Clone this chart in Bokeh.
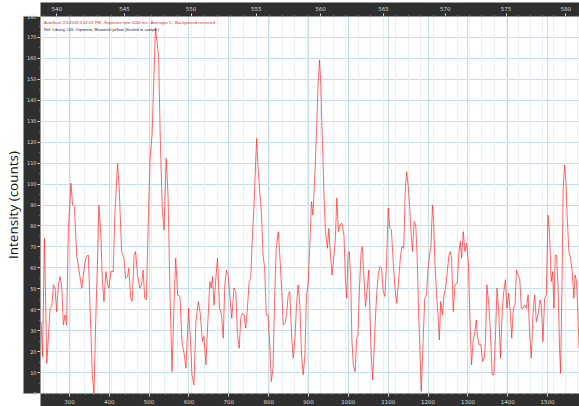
from bokeh.plotting import figure
from bokeh.models import (LinearAxis, FixedTicker, SingleIntervalTicker, Range1d, Label,
                          Title, Grid, CustomJSTickFormatter)
from bokeh.embed import file_html
from bokeh.resources import INLINE

# ---- data ----
raman_shift = [
    229, 232.5, 237.5, 243.3, 251.7, 255.8, 260, 264, 268, 272.5, 276.7, 281, 285, 289, 293,
    297.5, 304, 308, 312.5, 318.3, 324, 331, 335, 342, 347.5, 352.5, 357.5, 361.7, 366, 371,
    374, 379, 382.5, 386.7, 391.7, 396, 399, 404, 410, 414, 421, 425, 431, 437, 441,
    446, 449, 454, 457.5, 462.5, 466, 471, 477, 481, 485, 489, 493, 497.5, 502.5, 507.5,
    511.7, 516, 520, 524, 528, 533, 537.5, 543, 547.5, 552.5, 557.5, 562.5, 566.7,
    571.7, 577.5, 582.5, 588.3, 592.5, 599, 604, 607.5, 612.5, 617.5, 623.3, 628.3, 634, 637.5, 642.5,
    647.5, 652.5, 656, 659, 663, 667.5, 671.7, 676.7, 681.7, 686, 690, 694, 699, 703, 707.5,
    713, 717.5, 721.7, 726, 730, 734, 738.3, 742.5, 746.7, 751, 755, 759, 763.3, 767.5, 770,
    773, 777.5, 781.7, 786, 790, 794, 798, 802.5, 806.7, 811, 815, 819, 824, 828, 832.5,
    836.7, 841, 845, 849, 853, 857.5, 861.7, 866, 870, 874, 878.3, 882.5, 886.7, 891, 895,
    899, 903, 907.5, 911,
    916.7, 921, 924, 927.5, 931, 933.3, 936, 939, 942.5, 947.5, 951, 954, 959, 964, 967.5,
    971, 975, 979, 984, 989, 992.5, 996, 999, 1002.5, 1006, 1009, 1012.5, 1017, 1021, 1024,
    1027.5, 1032, 1035, 1039, 1043, 1047.5, 1051, 1054, 1057.5, 1061, 1064, 1067.5, 1071, 1075, 1079,
    1083.3, 1087.5, 1091.7, 1096, 1100, 1104, 1108, 1112.5, 1117, 1121, 1126, 1131, 1135, 1139, 1142.5,
    1146, 1150, 1154, 1157.5, 1161, 1165, 1169, 1172.5, 1176, 1179, 1183, 1187.5, 1191.7, 1196, 1200,
    1204, 1207.5, 1211, 1214, 1217.5, 1221.7, 1225, 1228.3, 1231.7, 1236, 1240, 1244, 1248.3, 1252.5, 1256,
    1259,
    1263.3, 1267.5, 1273.3, 1277.5, 1281, 1284, 1288.3, 1292.5, 1296.7, 1301, 1305, 1309, 1313, 1317.5, 1321,
    1324, 1328, 1332.5, 1336.7, 1341, 1344, 1347.5, 1352.5, 1356.7, 1361, 1365, 1369, 1373, 1377.5, 1381.7,
    1386, 1390, 1394, 1398, 1402.5, 1406.7, 1410, 1414, 1418.3, 1421.7, 1426, 1430, 1434, 1438, 1442.5,
    1446.7, 1451, 1455, 1459, 1463.3, 1467.5, 1471.7, 1476, 1481, 1484, 1488.3, 1492.5, 1496.7, 1501, 1505,
    1509, 1512.5, 1516, 1519, 1522.5, 1526, 1530, 1532.5, 1536, 1539, 1542.5, 1546, 1549, 1553.3, 1557.5,
    1561.7, 1566, 1569, 1572.5, 1576, 1579,
]
intensity = [
    34.4, 17.6, 74.1, 14.4, 40.7, 41.5, 51.9, 50.3, 39.1, 51.9, 55.8, 50.3, 32.8, 37.6, 32.8,
    78.9, 100.4, 90, 89.3, 66.1, 58.9, 50.3, 56.6, 65.4, 66.1, 37.6, 8.9, 0.1, 34.4, 66.1,
    90, 75.7, 55, 43.9, 58.2, 51.9, 50.3, 58.2, 58.2, 85.2, 109.9, 98, 67.8, 64.6, 55,
    55.8, 59.8, 45.5, 43.9, 66.1, 67.8, 56.6, 50.3, 51.9, 58.9, 45.5, 44.7, 78.9, 112.3, 123.5,
    149, 174.5, 168, 160, 122, 88.5, 78.1, 112.3, 94.9, 47.1, 10.5, 42.3, 64.6,
    47.1, 46.3, 24.8, 18.4, 12.1, 40.7, 24.8, 8.9, 4.1, 34.4, 43.9, 38.3, 24.8, 27.2, 13.7,
    34.4, 53.5, 50.3, 55.8, 42.3, 55, 64.6, 40.7, 37.6, 26.4, 51.9, 58.9, 55.8, 45.5, 35.9,
    50.3, 48.7, 28, 21.6, 35.9, 38.3, 37.6, 31.2, 40.7, 53.5, 55, 74.1, 90, 110.7, 121.9,
    109.1, 96.5, 86.9, 66.1, 59.8, 37.6, 37.6, 24.8, 5.7, 12.1, 45.5, 69.3, 77.3, 66.1, 50.3,
    32.8, 33.6, 37.6, 47.1, 48.7, 28, 16.9, 26.4, 42.3, 51.9, 42.3, 18.4, 8.9, 18.4, 47.1,
    51.9, 69.3, 91.6, 85.2,
    107.5, 130, 147.4, 159.3, 147.4, 130, 114, 93.3, 77.3, 69.3, 78.9, 69.3, 56.6, 66.1, 74.1,
    93.3, 77.3, 80.5, 81.3, 75.7, 55, 45.5, 66.1, 67.8, 53.5, 24.8, 13.7, 10.5, 26.4, 28,
    48.7, 67.8, 70.2, 56.6, 41.5, 50.3, 58.9, 39.1, 18.4, 6.5, 18.4, 34.4, 47.1, 56.6, 60.6,
    59.8, 48.7, 46.3, 63, 88.5, 78.9, 78.1, 63, 50.3, 43.1, 53.5, 66.1, 70.2, 69.3, 94.9,
    105.9, 99.6, 88.5, 75.7, 67.8, 82.1, 80.5, 66.1, 40.7, 23.3, 1, 24.8, 45.5, 47.1, 59.8,
    66.1, 70.9, 90, 82.1, 61.4, 45.5, 37.6, 25.6, 43.9, 37.6, 47.1, 50.3, 58.2, 66.1, 67.8,
    64.6,
    39.1, 51.9, 52.7, 67.8, 72.6, 64.6, 77.3, 67.8, 71.8, 63, 35.9, 13.7, 24.8, 29.6, 35.1,
    27.2, 23.3, 23.3, 15.3, 16.9, 24.8, 51.9, 42.3, 28, 8.9, 8.9, 26.4, 50.3, 39.1, 16.9,
    39.1, 48.7, 54.3, 40.7, 47.9, 37.6, 26.4, 40.7, 42.3, 58.9, 56.6, 55, 40.7, 40.7, 42.3,
    40.7, 47.1, 28, 16.9, 37.6, 47.1, 34.4, 37.6, 44.7, 42.3, 24.8, 45.5, 47.1, 85.2, 75.7,
    53.5, 58.2, 40.7, 66.1, 66.1, 51.9, 21.6, 9.7, 50.3, 98, 109.1, 101.2, 85.2, 67.8, 64.6,
    58.2, 45.5, 56.6, 53.5, 39.1, 21.6,
]

laser_nm = 532.28                      # excitation wavelength used for the top axis
wavelength_labels = [540, 545, 550, 555, 560, 565, 570, 575, 580]
wavelength_minor = list(range(536, 584))
raman_tick_step = 100
intensity_tick_step = 10
y_label = "Intensity (counts)"
info_line1 = "AutoScan 2/1/2018 4:02:01 PM - Exposure time 2000 ms - Averages 5 - Background corrected"
info_line2 = "Ref. Library #43, Orpiment, Brownish yellow (Scaled to sample)"

DARK = "#2f2f2f"
TICKTXT = "#d8d8d8"
GRID = "#c3dfea"

def nm_to_shift(nm):
    return 1e7 / laser_nm - 1e7 / nm

p = figure(width=579, height=406, output_backend="svg", toolbar_location=None,
           x_range=Range1d(227.5, 1580), y_range=Range1d(0, 180),
           min_border_left=0, min_border_right=0, min_border_top=16, min_border_bottom=0,
           background_fill_color="white", border_fill_color="white", outline_line_color=None)

xt = SingleIntervalTicker(interval=raman_tick_step, num_minor_ticks=5)
xa = p.xaxis[0]
xa.ticker = xt
yt = SingleIntervalTicker(interval=intensity_tick_step, num_minor_ticks=2)
ya = p.yaxis[0]
ya.ticker = yt

top_ticker = FixedTicker(ticks=[nm_to_shift(w) for w in wavelength_labels],
                         minor_ticks=[nm_to_shift(w) for w in wavelength_minor])
ta = LinearAxis(ticker=top_ticker,
                formatter=CustomJSTickFormatter(args=dict(laser=laser_nm),
                                                code="return String(Math.round(1e7/(1e7/laser - tick)));"))
p.add_layout(ta, "above")

for ax in (xa, ya, ta):
    ax.axis_line_color = None
    ax.major_tick_line_color = "#e0e0e0"
    ax.minor_tick_line_color = "#9a9a9a"
    ax.major_tick_in = 0
    ax.major_tick_out = 3
    ax.minor_tick_in = 0
    ax.minor_tick_out = 1
    ax.major_label_text_color = TICKTXT
    ax.major_label_text_font = "DejaVu Sans"
    ax.major_label_text_font_size = "5.5px"
    ax.major_label_standoff = 2
    try:
        ax.background_fill_color = DARK
        ax.background_fill_alpha = 1.0
    except AttributeError:
        pass
ya.major_label_text_font_size = "5px"
ya.major_label_standoff = 1
ta.major_label_standoff = 3

p.add_layout(Title(text=y_label, align="center", text_font="Open Sans",
                   text_font_size="13.5px", text_font_style="normal", text_color="#111111",
                   standoff=3), "left")

p.xgrid.ticker = xt
p.xgrid.grid_line_color = GRID
p.ygrid.ticker = yt
p.ygrid.grid_line_color = GRID
p.add_layout(Grid(dimension=0, ticker=top_ticker, grid_line_color=None,
                  minor_grid_line_color="#e4f0f5"))

p.line(raman_shift, intensity, line_color="#ff2b2b", line_width=0.85, line_alpha=0.85)

p.add_layout(Label(x=236, y=177.0, text=info_line1, text_font="Liberation Sans",
                   text_font_size="4.1px", text_color="#e02828", text_baseline="middle"))
p.add_layout(Label(x=236, y=173.6, text=info_line2, text_font="Liberation Sans",
                   text_font_size="4.1px", text_color="#222240", text_baseline="middle"))

open("out.html", "w").write(file_html(p, INLINE))
